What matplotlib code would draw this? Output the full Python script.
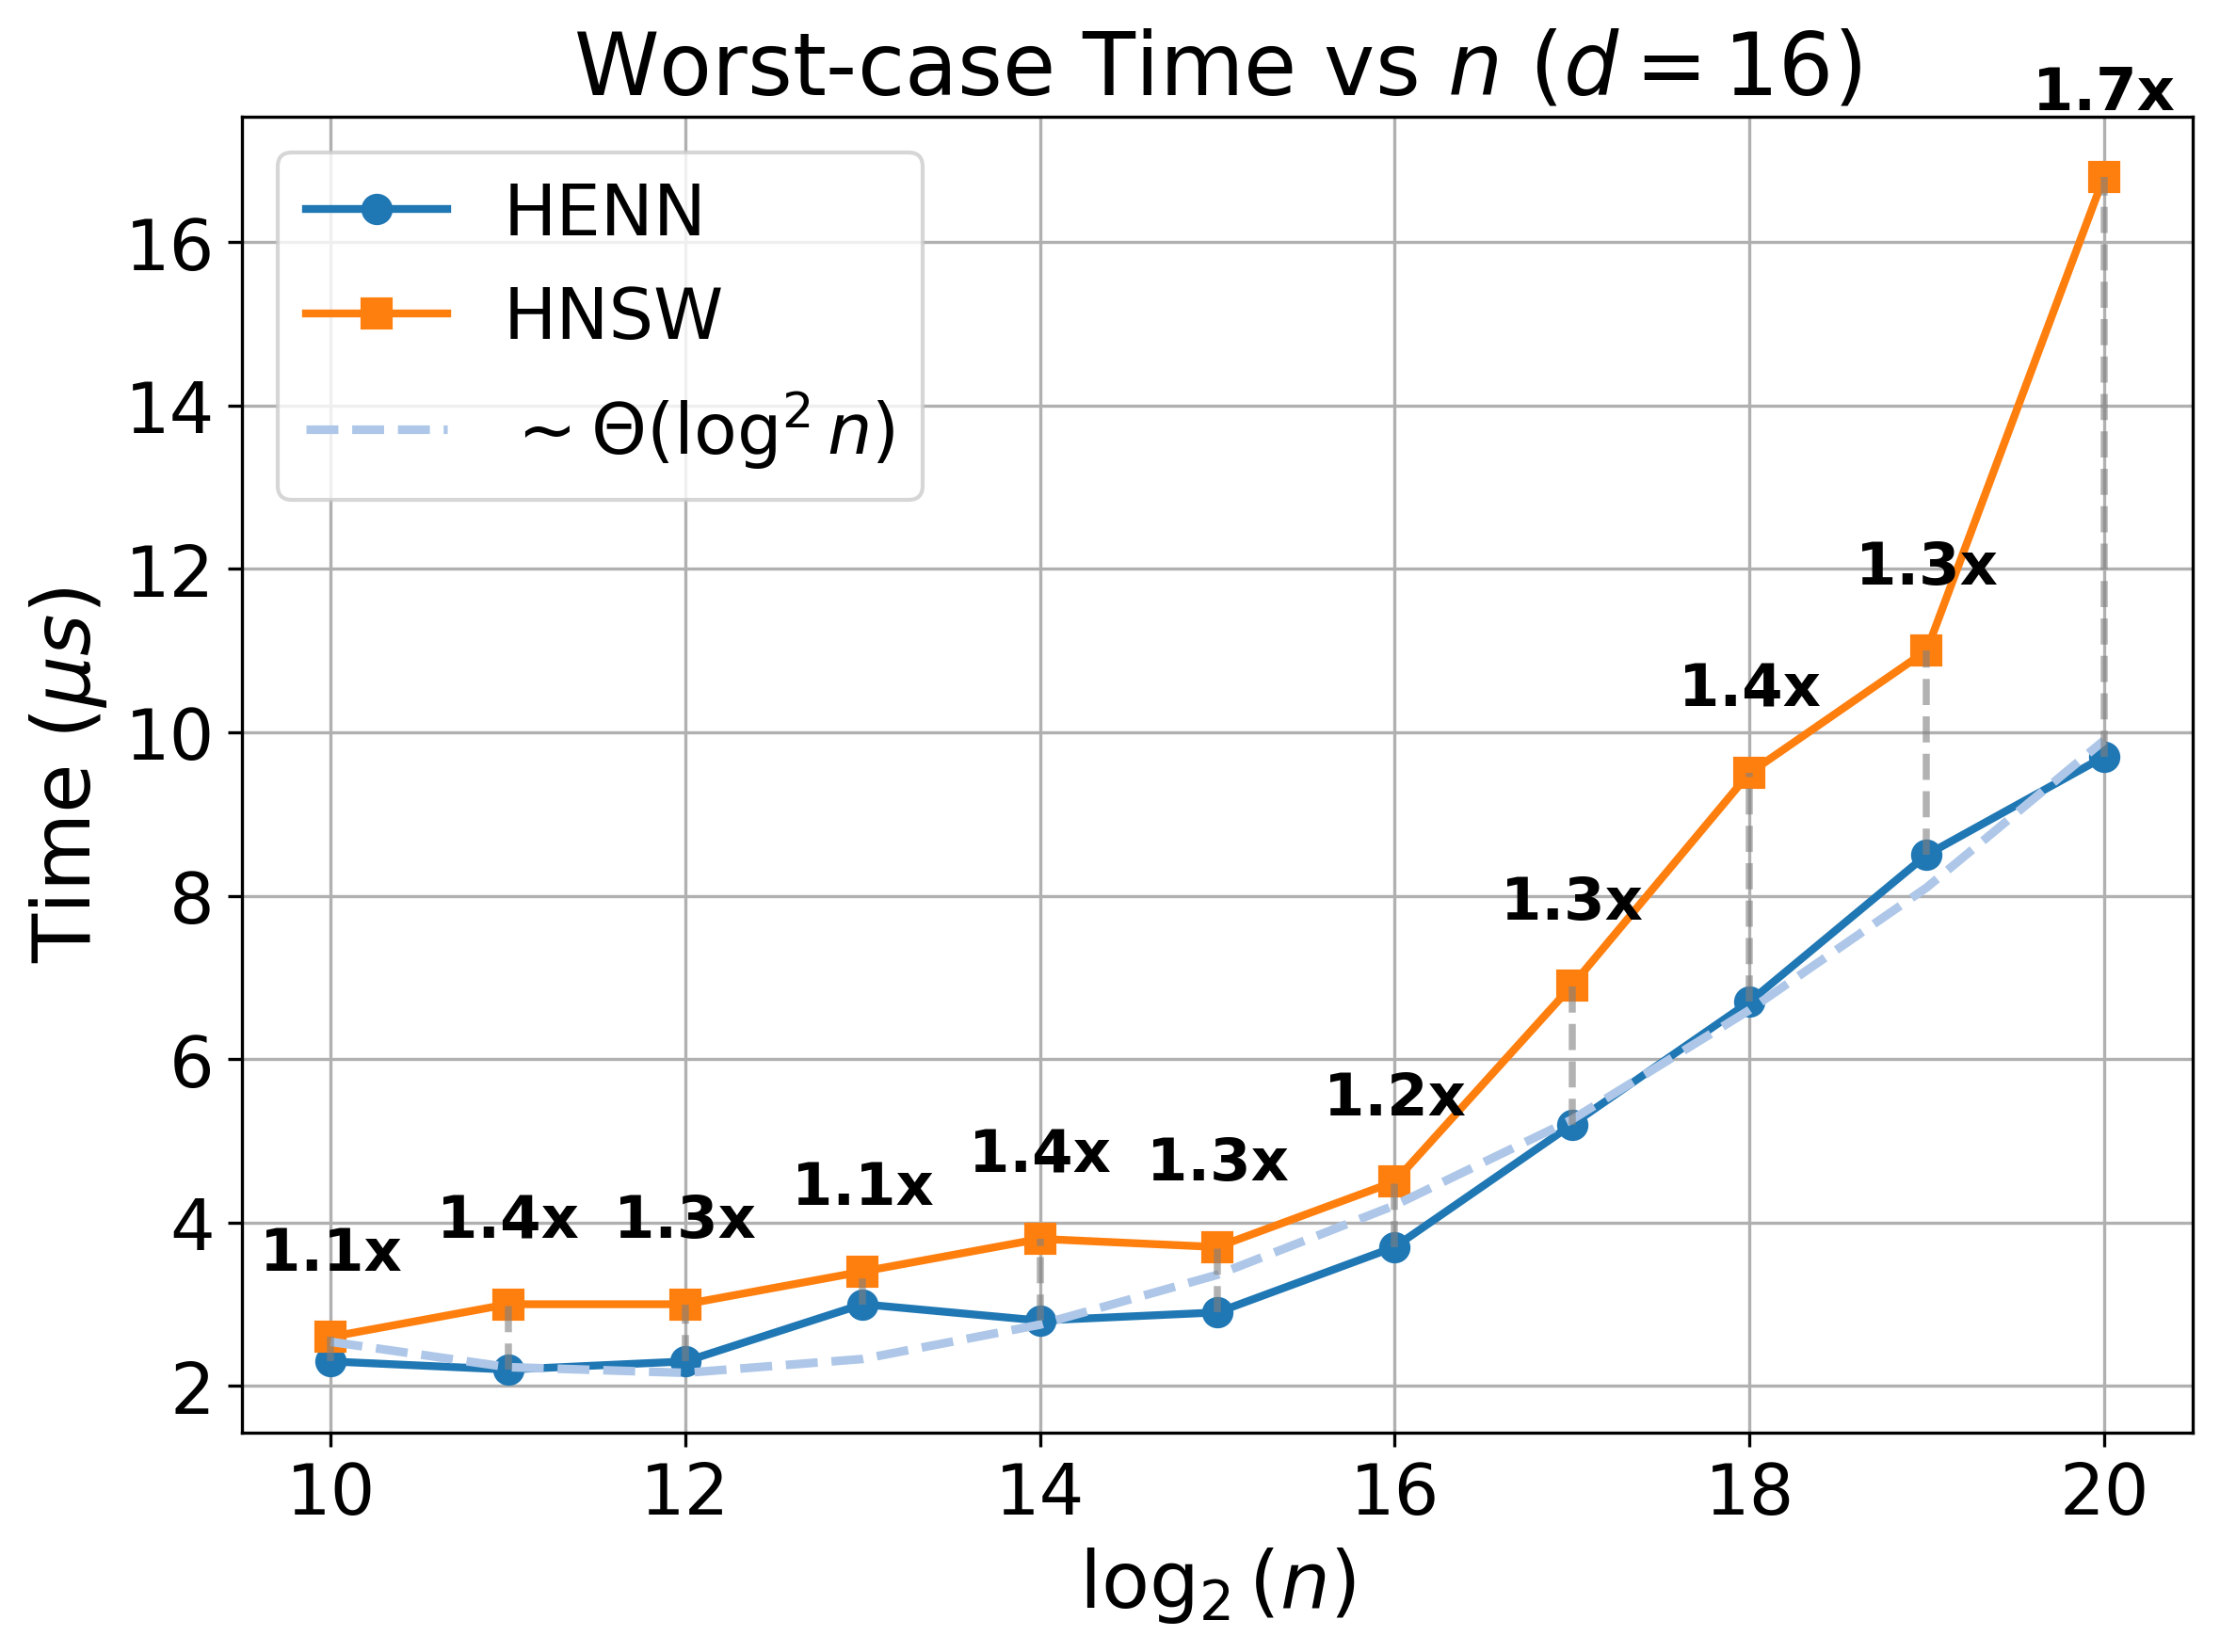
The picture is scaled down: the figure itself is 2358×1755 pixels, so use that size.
import numpy as np
import matplotlib
matplotlib.use("Agg")
from matplotlib import pyplot as plt

log_n = [10, 11, 12, 13, 14, 15, 16, 17, 18, 19, 20]
henn_time = [2.3, 2.2, 2.3, 3.0, 2.8, 2.9, 3.7, 5.2, 6.7, 8.5, 9.7]
hnsw_time = [2.6, 3.0, 3.0, 3.4, 3.8, 3.7, 4.5, 6.9, 9.5, 11.0, 16.8]
theta_fit = [2.54, 2.23, 2.16, 2.33, 2.75, 3.36, 4.21, 5.26, 6.6, 8.1, 9.9]

fig, ax = plt.subplots(figsize=(7.86, 5.853), dpi=300)
fig.subplots_adjust(left=0.109, right=0.9877, top=0.9288, bottom=0.1327)

ax.plot(log_n, henn_time, marker="o", color="#1f77b4", lw=2, markersize=7, label="HENN")
ax.plot(log_n, hnsw_time, marker="s", color="#ff7f0e", lw=2, markersize=7, label="HNSW")
ax.plot(log_n, theta_fit, "--", color="#aec7e8", lw=2.2, label=r"$\sim \Theta(\log^2 n)$")

# speedup markers
for x, a, b in zip(log_n, henn_time, hnsw_time):
    ax.plot([x, x], [a, b], "--", color="gray", alpha=0.6, lw=1.8)
    ax.annotate(f"{b / a:.1f}x", (x, b), xytext=(0, 14), textcoords="offset points",
                ha="center", va="bottom", fontsize=15, fontweight="bold")

ax.set_title(r"Worst-case Time vs $n$ ($d=16$)", fontsize=22)
ax.set_xlabel(r"$\log_2(n)$", fontsize=20)
ax.set_ylabel(r"Time ($\mu s$)", fontsize=20.5)
ax.tick_params(labelsize=18)
ax.grid(True)
ax.legend(loc="upper left", fontsize=18)

plt.savefig("out.png", dpi=300)
